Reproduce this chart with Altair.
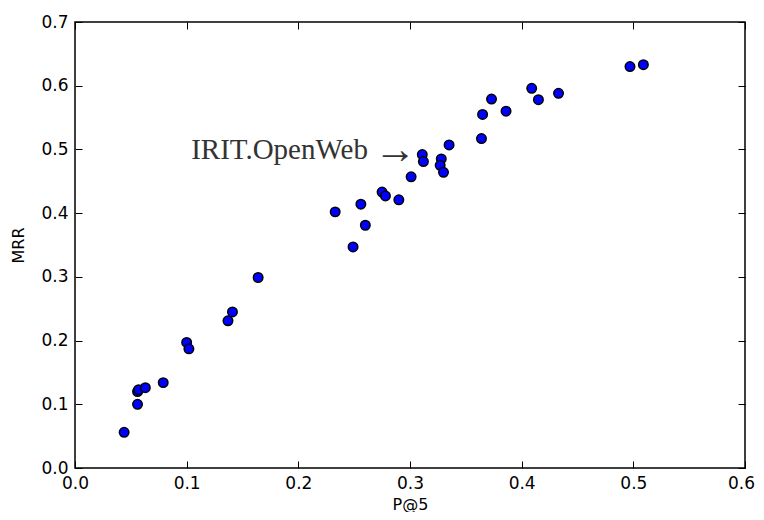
import altair as alt
import pandas as pd

p_at_5 = [0.044, 0.056, 0.056, 0.057, 0.063, 0.079, 0.100, 0.102, 0.137, 0.141,
          0.164, 0.233, 0.249, 0.256, 0.260, 0.275, 0.278, 0.290, 0.301, 0.311,
          0.312, 0.328, 0.327, 0.330, 0.335, 0.364, 0.365, 0.373, 0.386, 0.409,
          0.415, 0.433, 0.497, 0.509]
mrr = [0.056, 0.100, 0.120, 0.123, 0.126, 0.134, 0.197, 0.187, 0.231, 0.245,
       0.299, 0.402, 0.347, 0.414, 0.381, 0.433, 0.427, 0.421, 0.457, 0.492,
       0.481, 0.485, 0.475, 0.464, 0.507, 0.517, 0.555, 0.579, 0.560, 0.596,
       0.578, 0.588, 0.630, 0.633]

# annotation: label and its arrow
ann_label = ["IRIT.OpenWeb"]
ann_x = [0.2623]
ann_y = [0.4995]
arrow_label = ["\u2192"]
arrow_x = [0.2866]
arrow_y = [0.4985]

x_ticks = [0.0, 0.1, 0.2, 0.3, 0.4, 0.5, 0.6]
y_ticks = [0.0, 0.1, 0.2, 0.3, 0.4, 0.5, 0.6, 0.7]

df = pd.DataFrame({"P@5": p_at_5, "MRR": mrr})
ann = pd.DataFrame({"P@5": ann_x, "MRR": ann_y, "label": ann_label})
arr = pd.DataFrame({"P@5": arrow_x, "MRR": arrow_y, "label": arrow_label})

xscale = alt.Scale(domain=[0, 0.6], nice=False, zero=False)
yscale = alt.Scale(domain=[0, 0.7], nice=False, zero=False)

common_axis = dict(
    domain=False, grid=False, tickSize=7, tickColor="black", tickWidth=1,
    offset=-7, labelFont="DejaVu Sans", labelFontSize=17, labelColor="black",
    labelFlush=False, labelOverlap=False,
    titleFont="DejaVu Sans", titleFontSize=16, titleFontWeight="normal",
    titleColor="black", format=".1f",
)

points = alt.Chart(df).mark_point(
    shape="circle", filled=True, fill="#0000ff", stroke="black",
    strokeWidth=1.5, size=90, opacity=1,
).encode(
    x=alt.X("P@5:Q", scale=xscale,
            axis=alt.Axis(orient="bottom", values=x_ticks, labelPadding=7,
                          titlePadding=5,
                          labelOffset={"expr": "datum.value >= 0.59 ? -4 : 0"},
                          **common_axis)),
    y=alt.Y("MRR:Q", scale=yscale,
            axis=alt.Axis(orient="left", values=y_ticks, labelPadding=7,
                          titlePadding=14, **common_axis)),
)

text = alt.Chart(ann).mark_text(
    align="right", baseline="middle", font="Liberation Serif",
    fontSize=29, color="#333333",
).encode(
    x=alt.X("P@5:Q", scale=xscale,
            axis=alt.Axis(orient="top", values=x_ticks, labels=False, title=None,
                          domain=False, grid=False, tickSize=7, tickColor="black",
                          tickWidth=1, offset=-7)),
    y=alt.Y("MRR:Q", scale=yscale,
            axis=alt.Axis(orient="right", values=y_ticks, labels=False, title=None,
                          domain=False, grid=False, tickSize=7, tickColor="black",
                          tickWidth=1, offset=-7)),
    text="label:N",
)

arrow = alt.Chart(arr).mark_text(
    align="center", baseline="middle", font="Liberation Serif",
    fontSize=42, color="#333333",
).encode(
    x=alt.X("P@5:Q", scale=xscale, axis=None),
    y=alt.Y("MRR:Q", scale=yscale, axis=None),
    text="label:N",
)

chart = alt.layer(points, text, arrow).resolve_axis(
    x="independent", y="independent"
).properties(
    width=670, height=446,
    autosize=alt.AutoSizeParams(type="none"),
    padding={"left": 67, "top": 14, "right": 11, "bottom": 44},
    background="white",
).configure_view(
    stroke="black", strokeWidth=1.5
).configure_axis(
    titleFontSize=16, titleFont="DejaVu Sans", titleColor="black"
)

chart.save("out.html", embed_options={"renderer": "svg", "actions": False})
